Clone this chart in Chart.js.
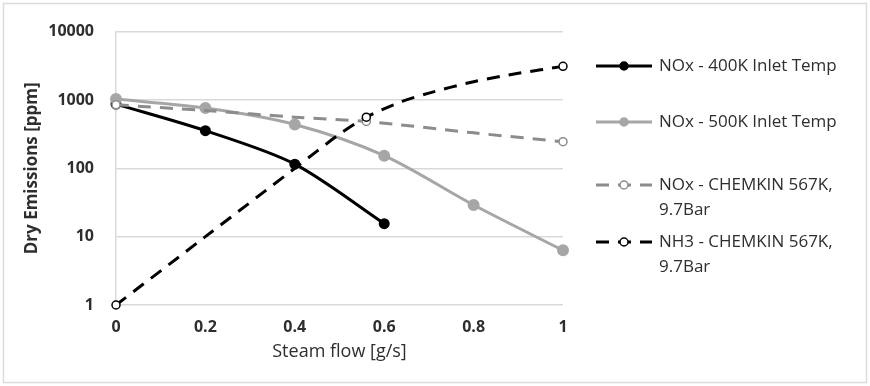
<!DOCTYPE html>
<html>
<head>
<meta charset="utf-8">
<script src="https://cdn.jsdelivr.net/npm/chart.js@4"></script>
<style>
  html, body { margin: 0; padding: 0; background: #fff; }
  #wrap { width: 870px; height: 386px; }
</style>
</head>
<body>
<div id="wrap"><canvas id="line" width="870" height="386"></canvas></div>
<script>
// steam flow [g/s] and dry emissions [ppm]
const steamFlow = [0, 0.2, 0.4, 0.6, 0.8, 1];
const nox400K = [870, 355, 115, 15.5];
const nox500K = [1030, 760, 437, 153, 29, 6.3];
const noxChemkinFlow = [0, 0.2, 0.4, 0.56, 0.8, 1];
const noxChemkin = [850, 700, 560, 485, 330, 245];
const nh3ChemkinFlow = [0, 0.2, 0.4, 0.5, 0.56, 0.64, 0.7, 0.8, 0.9, 1];
const nh3Chemkin = [1, 10, 100, 316, 560, 950, 1260, 1850, 2450, 3100];
const chemkinMarkerFlow = [0, 0.56, 1];
const yTicks = [1, 10, 100, 1000, 10000];
const seriesNames = [
    "NOx - 400K Inlet Temp",
    "NOx - 500K Inlet Temp",
    ["NOx - CHEMKIN 567K,", "9.7Bar"],
    ["NH3 - CHEMKIN 567K,", "9.7Bar"],
];

const FONT = "'Open Sans', 'Liberation Sans', sans-serif";
const TEXT = "#2e2e2e";

const toPoints = (xs, ys) => ys.map((y, i) => ({ x: xs[i], y: y }));
const chemkinRadius = (ctx) =>
    chemkinMarkerFlow.includes(ctx.raw ? ctx.raw.x : -1) ? 4 : 0;

const pageBox = {
    id: "pageBox",
    beforeDraw(chart) {
        const c = chart.ctx;
        c.save();
        c.fillStyle = "#fff";
        c.fillRect(0, 0, chart.width, chart.height);
        c.strokeStyle = "#dcdcdc";
        c.lineWidth = 1.5;
        c.strokeRect(3.5, 3.5, 863, 379);
        c.restore();
    },
};

// legend on the right, drawn like the spreadsheet legend
const sideLegend = {
    id: "sideLegend",
    afterDraw(chart) {
        const c = chart.ctx;
        const rows = [66, 122, 185, 242];
        chart.data.datasets.forEach((ds, i) => {
            const y = rows[i];
            c.save();
            c.strokeStyle = ds.borderColor;
            c.lineWidth = ds.borderWidth;
            c.setLineDash(ds.borderDash || []);
            c.beginPath();
            c.moveTo(596, y);
            c.lineTo(652, y);
            c.stroke();
            c.setLineDash([]);
            c.beginPath();
            c.arc(624, y, 4, 0, Math.PI * 2);
            c.fillStyle = ds.pointBackgroundColor;
            c.fill();
            c.lineWidth = 1.5;
            c.strokeStyle = ds.pointBorderColor;
            c.stroke();
            c.fillStyle = TEXT;
            c.font = "17px " + FONT;
            c.textBaseline = "middle";
            const lines = Array.isArray(seriesNames[i]) ? seriesNames[i] : [seriesNames[i]];
            lines.forEach((t, k) => c.fillText(t, 659, y + k * 25));
            c.restore();
        });
    },
};

new Chart("line", {
    type: "line",
    plugins: [pageBox, sideLegend],
    data: {
        datasets: [
            {
                label: "NOx - 400K Inlet Temp",
                data: toPoints(steamFlow, nox400K),
                borderColor: "#000",
                backgroundColor: "#000",
                pointBackgroundColor: "#000",
                pointBorderColor: "#000",
                borderWidth: 3,
                pointRadius: 4,
                tension: 0.3,
                clip: false,
                order: 4,
            },
            {
                label: "NOx - 500K Inlet Temp",
                data: toPoints(steamFlow, nox500K),
                borderColor: "#a6a6a6",
                backgroundColor: "#a6a6a6",
                pointBackgroundColor: "#a6a6a6",
                pointBorderColor: "#a6a6a6",
                borderWidth: 3,
                pointRadius: 4.5,
                tension: 0.3,
                clip: false,
                order: 3,
            },
            {
                label: "NOx - CHEMKIN 567K, 9.7Bar",
                data: toPoints(noxChemkinFlow, noxChemkin),
                borderColor: "#8c8c8c",
                backgroundColor: "#fff",
                pointBackgroundColor: "#fff",
                pointBorderColor: "#8c8c8c",
                borderWidth: 3,
                borderDash: [13, 9],
                pointRadius: chemkinRadius,
                pointBorderWidth: 1.5,
                tension: 0.3,
                clip: false,
                order: 2,
            },
            {
                label: "NH3 - CHEMKIN 567K, 9.7Bar",
                data: toPoints(nh3ChemkinFlow, nh3Chemkin),
                borderColor: "#000",
                backgroundColor: "#fff",
                pointBackgroundColor: "#fff",
                pointBorderColor: "#000",
                borderWidth: 3,
                borderDash: [13, 9],
                pointRadius: chemkinRadius,
                pointBorderWidth: 1.5,
                tension: 0.3,
                clip: false,
                order: 1,
            },
        ],
    },
    options: {
        responsive: false,
        animation: false,
        layout: { padding: { left: 0, top: 22, right: 307, bottom: 0 } },
        plugins: {
            legend: { display: false },
            tooltip: { enabled: false },
        },
        scales: {
            x: {
                type: "linear",
                min: 0,
                max: 1,
                afterBuildTicks: (s) => { s.ticks = steamFlow.map((v) => ({ value: v })); },
                afterFit: (s) => { s.height = 81; },
                ticks: {
                    callback: (v) => String(Number(v.toFixed(1))),
                    color: TEXT,
                    font: { family: FONT, size: 16, weight: "bold" },
                    padding: 13,
                    maxRotation: 0,
                },
                grid: { display: false, drawTicks: false },
                border: { display: false },
                title: {
                    display: true,
                    text: "Steam flow [g/s]",
                    color: TEXT,
                    font: { family: FONT, size: 18 },
                    padding: { top: 0, bottom: 23 },
                },
            },
            y: {
                type: "logarithmic",
                min: 1,
                max: 10000,
                afterBuildTicks: (s) => { s.ticks = yTicks.map((v) => ({ value: v })); },
                afterFit: (s) => { s.width = 116; },
                ticks: {
                    callback: (v) => String(v),
                    color: TEXT,
                    font: { family: FONT, size: 16, weight: "bold" },
                    padding: 22,
                },
                grid: { color: "#d9d9d9", lineWidth: 1.5, drawTicks: false },
                border: { color: "#d9d9d9", width: 1.5 },
                title: {
                    display: true,
                    text: "Dry Emissions [ppm]",
                    color: TEXT,
                    font: { family: FONT, size: 17, weight: "bold" },
                    padding: { top: 22, bottom: 0 },
                },
            },
        },
    },
});
</script>
</body>
</html>
